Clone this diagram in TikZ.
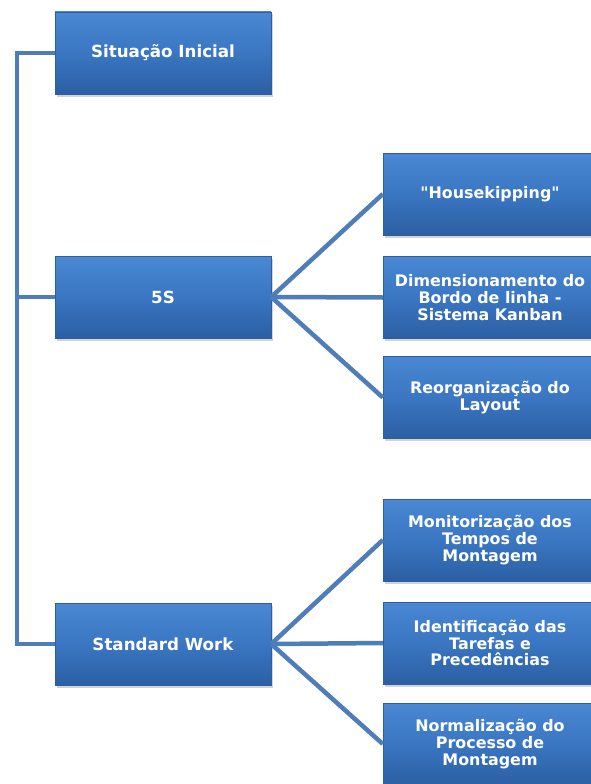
\documentclass[tikz,border=0pt]{standalone}
\usepackage{fontspec}
\setmainfont{DejaVu Sans}
\usepackage{tikz}
\usetikzlibrary{positioning,shadows}

\definecolor{boxtop}{HTML}{4A88D3}
\definecolor{boxmid}{HTML}{3A76C2}
\definecolor{boxbot}{HTML}{2B5FA3}
\definecolor{linkblue}{HTML}{4F7DBA}

\begin{document}
\begin{tikzpicture}[
    x=1pt, y=-1pt,
    box/.style={
        rectangle,
        draw=boxbot,
        top color=boxtop,
        bottom color=boxbot,
        middle color=boxmid,
        drop shadow={shadow xshift=1.5pt, shadow yshift=-2.5pt, opacity=0.35},
        minimum width=216pt,
        minimum height=82pt,
        align=center,
        text=white,
        font=\fontsize{16.7}{17}\selectfont\bfseries
    },
    subbox/.style={
        box,
        minimum width=214pt,
        font=\fontsize{15.9}{16.8}\selectfont\bfseries
    },
    link/.style={draw=linkblue, line width=4.5pt}
]

\clip (0,0) rectangle (591,784);

\node[box] (start) at (163,53) {Situação Inicial};
\node[box] (fives) at (163,297) {5S};
\node[box] (stdwork) at (163,644) {Standard Work};

\node[subbox] (housek) at (490,194) {\textquotedbl Housekipping\textquotedbl};
\node[subbox] (kanban) at (490,297.5) {Dimensionamento do\\Bordo de linha -\\Sistema Kanban};
\node[subbox] (layout) at (490,397.5) {Reorganização do\\Layout};
\node[subbox] (times) at (490,540) {Monitorização dos\\Tempos de\\Montagem};
\node[subbox] (tasks) at (490,643) {Identificação das\\Tarefas e\\Precedências};
\node[subbox] (norm) at (490,744) {Normalização do\\Processo de\\Montagem};

\coordinate (trunktop) at (17,53);
\coordinate (trunkbot) at (17,644);

\draw[link] (start.west) -- (trunktop) -- (trunkbot) -- (stdwork.west);
\draw[link] (trunktop |- fives.west) -- (fives.west);

\draw[link] (fives.east) -- (housek.west);
\draw[link] (fives.east) -- (kanban.west);
\draw[link] (fives.east) -- (layout.west);

\draw[link] (stdwork.east) -- (times.west);
\draw[link] (stdwork.east) -- (tasks.west);
\draw[link] (stdwork.east) -- (norm.west);

\end{tikzpicture}
\end{document}
